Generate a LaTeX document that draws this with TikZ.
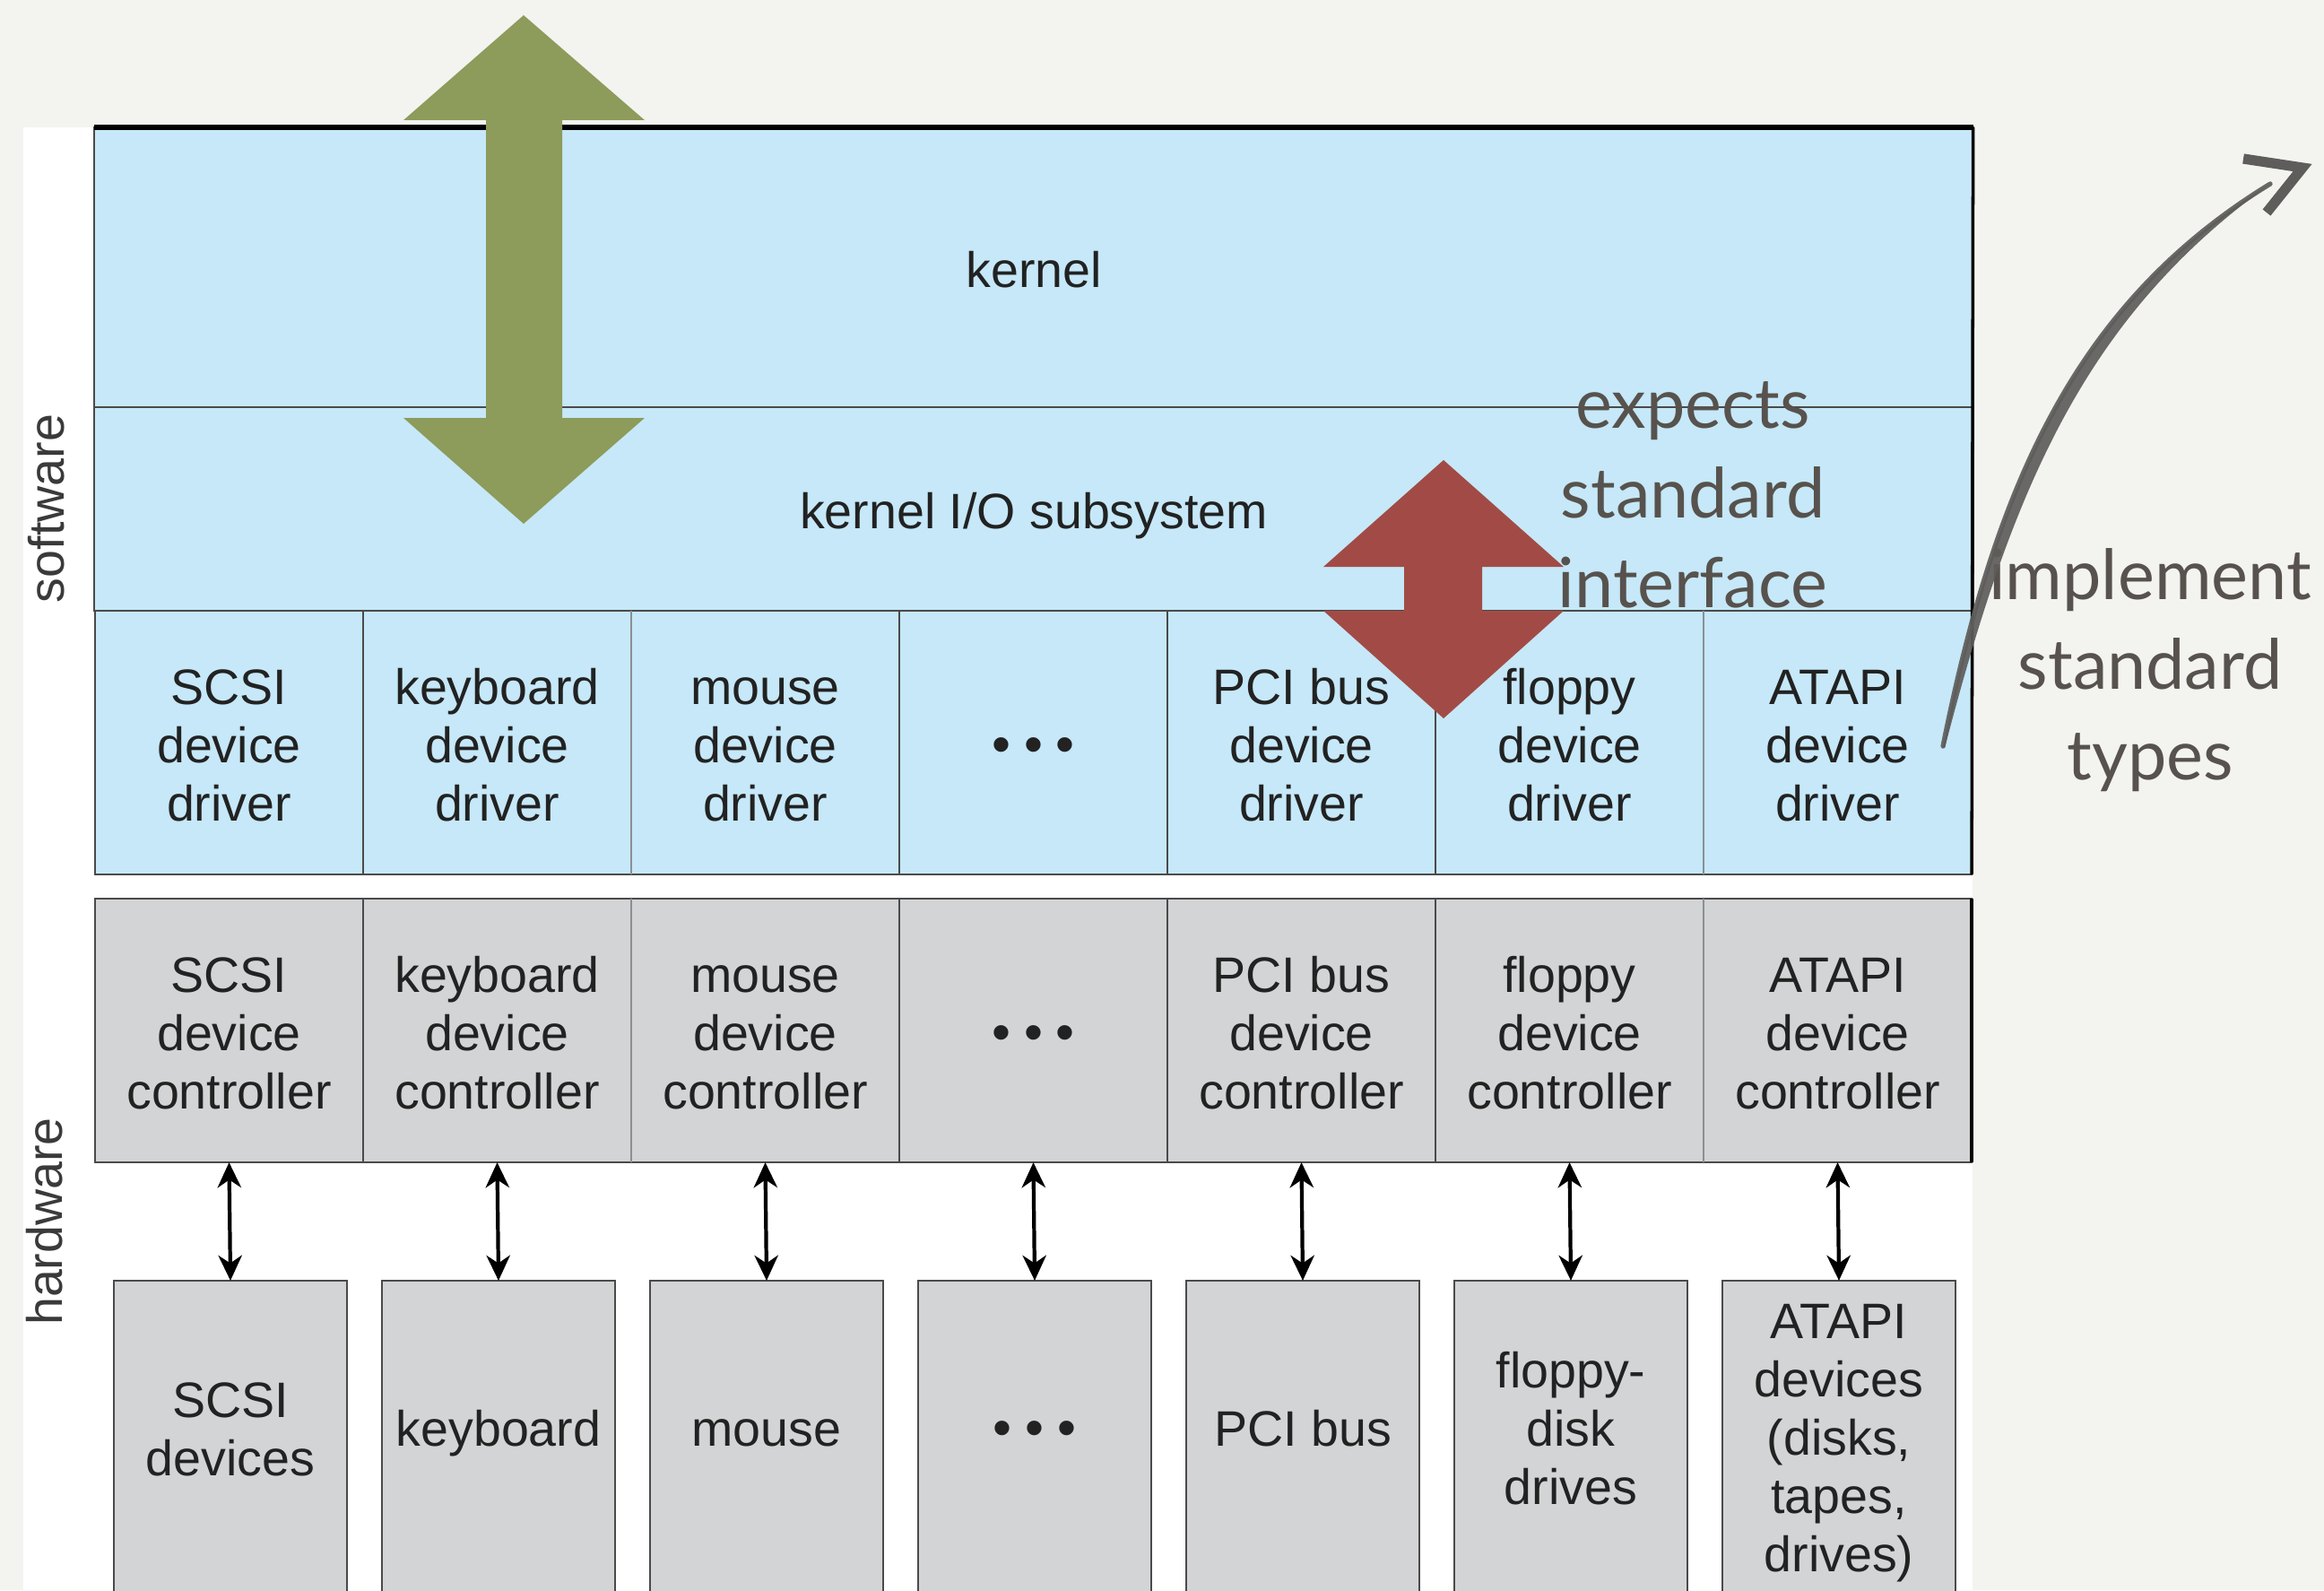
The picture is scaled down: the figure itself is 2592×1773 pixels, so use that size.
\documentclass[tikz,border=0pt]{standalone}
\usepackage{fontspec}
\setmainfont{Liberation Sans}
\newfontfamily\notefont{Lato}
\usetikzlibrary{arrows.meta}

\definecolor{paper}{HTML}{F3F3F0}
\definecolor{swfill}{HTML}{C6E8F8}
\definecolor{hwfill}{HTML}{D3D4D5}
\definecolor{cellline}{HTML}{4A4A4A}
\definecolor{softline}{HTML}{8A8F93}
\definecolor{txt}{HTML}{222222}
\definecolor{sidegray}{HTML}{3A3A3A}
\definecolor{olive}{HTML}{8D9B5B}
\definecolor{brick}{HTML}{A24B46}
\definecolor{notegray}{HTML}{57524D}
\definecolor{inkgray}{HTML}{5E5D5B}

% fixed first-line height and last-line depth, so every label sits alike
\newcommand{\cellbox}[1]{\rule{0pt}{16pt}#1\rule[-3pt]{0pt}{3pt}}

\tikzset{
  boxtext/.style={align=center, text=txt},
  swcell/.style={boxtext, draw=cellline, line width=0.6pt, fill=swfill, inner sep=0pt,
    outer sep=0pt},
  hwcell/.style={boxtext, draw=cellline, line width=0.6pt, fill=hwfill, inner sep=0pt,
    outer sep=0pt, minimum width=2.99cm, minimum height=2.94cm},
  drvcell/.style={swcell, minimum width=2.99cm, minimum height=2.94cm},
  devbox/.style={draw=cellline, line width=0.6pt, fill=hwfill, inner sep=0pt,
    outer sep=0pt, minimum width=2.6cm, minimum height=3.72cm},
  lbl/.style={boxtext, inner sep=0pt},
  link/.style={{Stealth[length=8pt,width=7.5pt,inset=2.5pt]}-{Stealth[length=8pt,width=7.5pt,inset=2.5pt]},
    line width=1.2pt, black},
  note/.style={font=\notefont\fontsize{22}{28.5}\selectfont, text=notegray, align=center},
  side/.style={rotate=90, text=sidegray, inner sep=0pt}
}

\newcommand{\dotrow}{{\fontsize{17}{18.5}\selectfont
  \textbullet\hspace{4.2pt}\textbullet\hspace{4.2pt}\textbullet}}

\begin{document}
\begin{tikzpicture}[x=0.01cm, y=-0.01cm, font=\fontsize{15.8}{18.5}\selectfont]
  % canvas and paper
  \useasboundingbox (0,0) rectangle (2592,1773);
  \clip (0,0) rectangle (2592,1773);
  \fill[paper] (0,0) rectangle (2592,1773);
  \fill[white] (26,142) rectangle (2200,1800);

  % software layers
  \node[swcell, minimum width=20.94cm, minimum height=3.12cm] (kernel) at (1153,298) {\cellbox{kernel}};
  \node[swcell, minimum width=20.94cm, minimum height=2.27cm] (kio) at (1153,567.5) {\cellbox{kernel I/O subsystem}};

  % device drivers
  \node[drvcell] (d1) at (255.5,828) {\cellbox{SCSI\\device\\driver}};
  \node[drvcell] (d2) at (554.5,828) {\cellbox{keyboard\\device\\driver}};
  \node[drvcell] (d3) at (853.5,828) {\cellbox{mouse\\device\\driver}};
  \node[drvcell] (d4) at (1152.5,828) {\cellbox{\dotrow}};
  \node[drvcell] (d5) at (1451.5,828) {\cellbox{PCI bus\\device\\driver}};
  \node[drvcell] (d6) at (1750.5,828) {\cellbox{floppy\\device\\driver}};
  \node[drvcell] (d7) at (2049.5,828) {\cellbox{ATAPI\\device\\driver}};

  % device controllers
  \node[hwcell] (c1) at (255.5,1149) {\cellbox{SCSI\\device\\controller}};
  \node[hwcell] (c2) at (554.5,1149) {\cellbox{keyboard\\device\\controller}};
  \node[hwcell] (c3) at (853.5,1149) {\cellbox{mouse\\device\\controller}};
  \node[hwcell] (c4) at (1152.5,1149) {\cellbox{\dotrow}};
  \node[hwcell] (c5) at (1451.5,1149) {\cellbox{PCI bus\\device\\controller}};
  \node[hwcell] (c6) at (1750.5,1149) {\cellbox{floppy\\device\\controller}};
  \node[hwcell] (c7) at (2049.5,1149) {\cellbox{ATAPI\\device\\controller}};

  % the fainter column dividers
  \foreach \a/\b in {d2/d3, d6/d7, c2/c3, c6/c7}
    \draw[softline, line width=0.6pt] (\a.north east) -- (\a.south east);

  % devices
  \foreach \i/\x in {1/257,2/556,3/855,4/1154,5/1453,6/1752,7/2051}
    \node[devbox] (v\i) at (\x,1614) {};
  \node[lbl] (t1) at (257,1590) {\cellbox{SCSI\\devices}};
  \node[lbl] (t2) at (556,1590) {\cellbox{keyboard}};
  \node[lbl] (t3) at (855,1590) {\cellbox{mouse}};
  \node[lbl] (t4) at (1154,1590) {\cellbox{\dotrow}};
  \node[lbl] (t5) at (1453,1590) {\cellbox{PCI bus}};
  \node[lbl] (t6) at (1752,1590) {\cellbox{floppy-\\disk\\drives}};
  \node[lbl] (t7) at (2051,1600) {\cellbox{ATAPI\\devices\\(disks,\\tapes,\\drives)}};

  % controller to device links
  \foreach \i in {1,...,7}
    \draw[link] (c\i.south) -- (v\i.north);

  % frame accents
  \draw[black, line width=1.6pt] (kernel.north west) -- (kernel.north east);
  \draw[black, line width=1pt] (kernel.north east) -- (d7.south east);
  \draw[black, line width=1pt] (c7.north east) -- (c7.south east);

  % side labels
  \node[side] (sw) at (52,567) {software};
  \node[side] (hw) at (50,1362) {hardware};

  % user/kernel crossing arrow
  \fill[olive] (584,17) -- (719,134) -- (627,134) -- (627,466) -- (719,466)
    -- (584,584) -- (450,466) -- (542,466) -- (542,134) -- (450,134) -- cycle;

  % standard interface arrow
  \fill[brick] (1610,513) -- (1744,632) -- (1653,632) -- (1653,681) -- (1744,681)
    -- (1610,801) -- (1476,681) -- (1566,681) -- (1566,632) -- (1476,632) -- cycle;

  % annotations
  \node[note] (expects) at (1888,552) {expects\\standard\\interface};
  \node[note] (implement) at (2398,747) {implement\\standard\\types};

  % hand-drawn pointer
  \coordinate (hs) at (2167,832);
  \coordinate (he) at (2532,205);
  \fill[inkgray, fill opacity=0.92] (hs) .. controls (2227,532) and (2319.5,335) .. (he)
    .. controls (2330,350) and (2246,536) .. (2169,834) -- cycle;
  \draw[inkgray, opacity=0.92, line width=1.5pt, line cap=round]
    (hs) .. controls (2227,532) and (2319.5,335) .. (he);
  \draw[inkgray, line width=3.2pt, line join=miter]
    (2502,177) -- (2568,187) -- (2528,237);
\end{tikzpicture}
\end{document}
